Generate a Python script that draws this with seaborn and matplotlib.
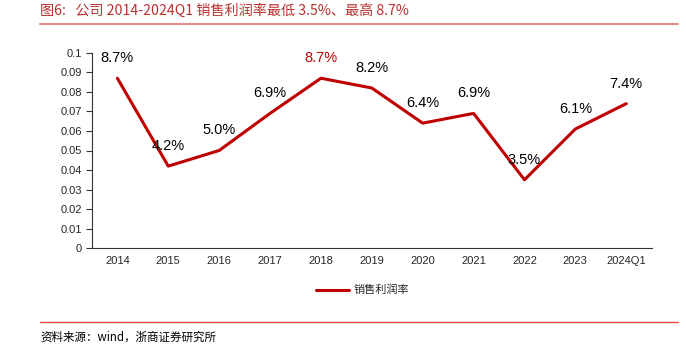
import matplotlib
matplotlib.use("Agg")
import matplotlib.pyplot as plt
import seaborn as sns
import pandas as pd
from matplotlib.lines import Line2D

categories = ["2014", "2015", "2016", "2017", "2018", "2019", "2020", "2021", "2022", "2023", "2024Q1"]
margin = [0.087, 0.042, 0.050, 0.069, 0.087, 0.082, 0.064, 0.069, 0.035, 0.061, 0.074]
labels = ["8.7%", "4.2%", "5.0%", "6.9%", "8.7%", "8.2%", "6.4%", "6.9%", "3.5%", "6.1%", "7.4%"]
yticks = [0, 0.01, 0.02, 0.03, 0.04, 0.05, 0.06, 0.07, 0.08, 0.09, 0.1]
series_name = "销售利润率"
title = "图6:   公司 2014-2024Q1 销售利润率最低 3.5%、最高 8.7%"
source = "资料来源：wind，浙商证券研究所"

sns.set_style("white")
plt.rcParams['font.family'] = ['Liberation Sans', 'Noto Sans CJK SC', 'DejaVu Sans']

RED = "#C00000"
fig = plt.figure(figsize=(6.86, 3.5), dpi=100)
ax = fig.add_axes([0.134, 0.291, 0.816, 0.558])

df = pd.DataFrame({"x": range(len(categories)), "y": margin})
sns.lineplot(data=df, x="x", y="y", ax=ax, color=RED, linewidth=2.2, legend=False)

ax.set_xlim(-0.5, len(categories) - 0.5)
ax.set_ylim(0, 0.1)
ax.set_yticks(yticks)
ax.set_yticklabels([f"{v:g}" for v in yticks], fontsize=8)
ax.set_xticks(range(len(categories)))
ax.set_xticklabels(categories, fontsize=8)
ax.tick_params(axis="x", which="major", length=0, pad=6)
ax.set_xticks([i - 0.5 for i in range(len(categories) + 1)], minor=True)
ax.tick_params(axis="x", which="minor", length=4, width=0.8, color="#333333", direction="out")
ax.tick_params(axis="y", length=4, width=0.8, color="#333333", direction="out", left=True, pad=3)
ax.set_xlabel("")
ax.set_ylabel("")
for s in ["top", "right"]:
    ax.spines[s].set_visible(False)
for s in ["left", "bottom"]:
    ax.spines[s].set_color("#333333")
    ax.spines[s].set_linewidth(0.8)

for i, (v, lab) in enumerate(zip(margin, labels)):
    col = RED if i == 4 else "black"
    ax.annotate(lab, (i, v), xytext=(0, 20), textcoords="offset pixels",
                ha="center", va="center", fontsize=10.5, color=col)

handle = Line2D([], [], color=RED, linewidth=2.2)
fig.legend([handle], [series_name], loc="center", bbox_to_anchor=(0.528, 0.171),
           frameon=False, handlelength=3.0, handletextpad=0.4,
           prop={"family": ["Noto Sans CJK SC"], "size": 8})

TRED = "#B8312F"
fig.text(40 / 686, 1 - 11 / 350, title, fontsize=10.2, color=TRED, ha="left", va="center",
         family=["Noto Sans CJK SC", "DejaVu Sans"])
fig.add_artist(Line2D([40 / 686, 678 / 686], [1 - 24 / 350] * 2, color="#E09090", linewidth=1.6))
fig.add_artist(Line2D([40 / 686, 678 / 686], [1 - 322 / 350] * 2, color="#E04848", linewidth=1.0))
fig.text(40 / 686, 1 - 337 / 350, source, fontsize=8.3, color="black", ha="left", va="center",
         family=["Noto Sans CJK SC", "DejaVu Sans"])

fig.savefig("out.png", dpi=100)
